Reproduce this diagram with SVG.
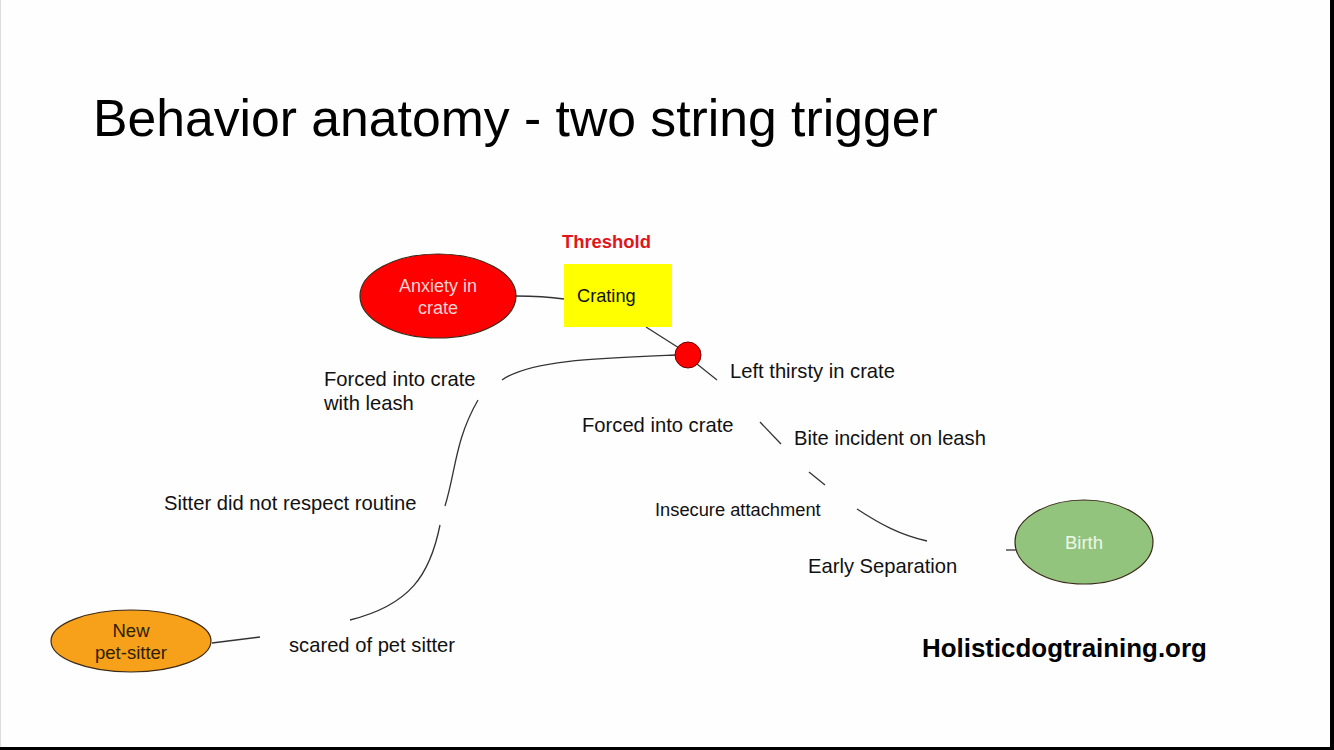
<svg xmlns="http://www.w3.org/2000/svg" width="1334" height="750" viewBox="0 0 1334 750">
<style>
  text { font-family: "Liberation Sans", Arial, sans-serif; }
  .lbl { font-size: 20.2px; fill: #111; }
  .node { stroke: #3a2a1a; stroke-width: 1.2; }
  .conn { fill: none; stroke: #333; stroke-width: 1.3; }
</style>
<rect x="0" y="0" width="1334" height="750" fill="#000"/>
<rect x="0" y="0" width="1330" height="747" fill="#fefefe"/>
<line x1="0.5" y1="0" x2="0.5" y2="747" stroke="#ddd" stroke-width="1"/>
<text x="93" y="136" font-size="51.7" fill="#000">Behavior anatomy - two string trigger</text>

<g id="connectors">
  <path class="conn" d="M516,296 C535,296 550,297 564,299"/>
  <path class="conn" d="M646,327 L679,348"/>
  <path class="conn" d="M697,364 L717,380"/>
  <path class="conn" d="M675,355 C600,358 530,360 502,380"/>
  <path class="conn" d="M478,400 C455,440 456,470 445,506"/>
  <path class="conn" d="M440,525 C430,575 410,605 350,620"/>
  <path class="conn" d="M212,643 L260,637"/>
  <path class="conn" d="M760,422 L781,444"/>
  <path class="conn" d="M809,472 L825,485"/>
  <path class="conn" d="M857,509 C880,524 900,535 927,541"/>
  <path class="conn" d="M1006,550 L1016,550"/>
</g>

<g id="anxiety">
  <ellipse class="node" cx="438" cy="296" rx="78" ry="42" fill="#ff0000" stroke="#5a0000"/>
  <text x="438" y="292" font-size="18" fill="#f6d4d4" text-anchor="middle">Anxiety in</text>
  <text x="438" y="314" font-size="18" fill="#f6d4d4" text-anchor="middle">crate</text>
</g>

<g id="threshold">
  <text x="562" y="248" font-size="18.4" font-weight="bold" fill="#e0161b">Threshold</text>
</g>

<g id="crating">
  <rect x="564" y="264" width="108" height="63" fill="#ffff00"/>
  <text x="577" y="302" font-size="18.2" fill="#111">Crating</text>
</g>

<g id="trigger">
  <circle cx="688" cy="355" r="13" fill="#ff0000" stroke="#6a0000" stroke-width="1"/>
</g>

<g id="left-thirsty"><text class="lbl" x="730" y="378">Left thirsty in crate</text></g>
<g id="forced-leash">
  <text class="lbl" x="324" y="386">Forced into crate</text>
  <text class="lbl" x="324" y="410">with leash</text>
</g>
<g id="forced"><text class="lbl" x="582" y="432">Forced into crate</text></g>
<g id="bite"><text class="lbl" x="794" y="445">Bite incident on leash</text></g>
<g id="insecure"><text x="655" y="516" font-size="18.3" fill="#111">Insecure attachment</text></g>
<g id="early"><text class="lbl" x="808" y="573">Early Separation</text></g>
<g id="sitter-routine"><text class="lbl" x="164" y="510">Sitter did not respect routine</text></g>
<g id="scared"><text class="lbl" x="289" y="652">scared of pet sitter</text></g>

<g id="new-pet-sitter">
  <ellipse class="node" cx="131" cy="641" rx="80" ry="31" fill="#f7a019" stroke="#4a3000"/>
  <text x="131" y="637" font-size="18.5" fill="#2e2000" text-anchor="middle">New</text>
  <text x="131" y="659" font-size="18.5" fill="#2e2000" text-anchor="middle">pet-sitter</text>
</g>

<g id="birth">
  <ellipse class="node" cx="1084" cy="542" rx="69" ry="42" fill="#93c47d" stroke="#2a3a22"/>
  <text x="1084" y="549" font-size="18.5" fill="#eef7e8" text-anchor="middle">Birth</text>
</g>

<text x="922" y="657" font-size="25.9" font-weight="bold" fill="#000">Holisticdogtraining.org</text>
</svg>
